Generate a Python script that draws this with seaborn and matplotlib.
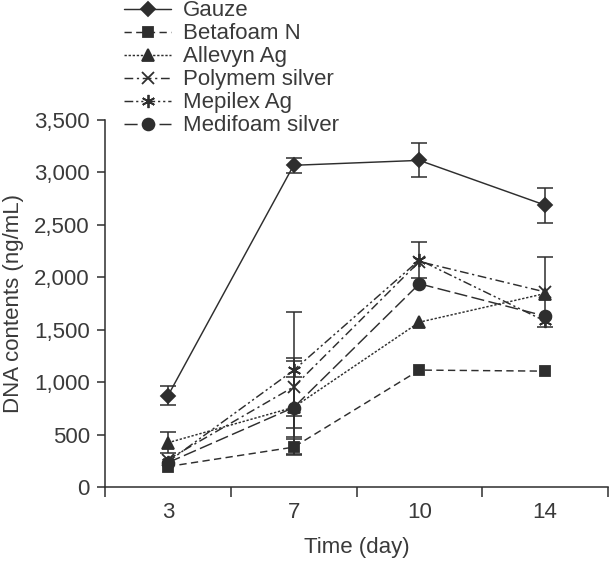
import matplotlib
matplotlib.use("Agg")
import matplotlib.pyplot as plt
import seaborn as sns
import pandas as pd
import numpy as np

# ---- data ----
days = ["3", "7", "10", "14"]
series_names = ["Gauze", "Betafoam N", "Allevyn Ag", "Polymem silver", "Mepilex Ag", "Medifoam silver"]
gauze = [869, 3068, 3115, 2688]
gauze_err = [90, 70, 162, 167]
betafoam = [195, 380, 1115, 1105]
betafoam_err = [0, 75, 0, 0]
allevyn = [422, 760, 1572, 1845]
allevyn_err = [98, 285, 0, 0]
polymem = [262, 955, 2150, 1860]
polymem_err = [0, 275, 0, 330]
mepilex = [240, 1113, 2165, 1582]
mepilex_err = [0, 555, 175, 0]
medifoam = [232, 758, 1938, 1630]
medifoam_err = [0, 440, 0, 0]
yticks = [0, 500, 1000, 1500, 2000, 2500, 3000, 3500]

values = [gauze, betafoam, allevyn, polymem, mepilex, medifoam]
errors = [gauze_err, betafoam_err, allevyn_err, polymem_err, mepilex_err, medifoam_err]

rows = []
for name, vals, errs in zip(series_names, values, errors):
    for i, (d, v, e) in enumerate(zip(days, vals, errs)):
        rows.append({"series": name, "day": d, "pos": i, "value": v, "err": e})
df = pd.DataFrame(rows)

# ---- styling ----
sns.set_theme(style="white")
plt.rcParams["font.family"] = ["Liberation Sans", "DejaVu Sans"]
ink = "#2e2e2e"
txt = "#3a3a3a"
fs = 16

dashes = {
    "Gauze": (None, None),
    "Betafoam N": (0, (5, 3)),
    "Allevyn Ag": (0, (1.6, 1.2)),
    "Polymem silver": (0, (6, 2.5, 1.5, 2.5)),
    "Mepilex Ag": (0, (6, 2, 1.5, 2, 1.5, 2)),
    "Medifoam silver": (0, (9, 3)),
}
markers = {
    "Gauze": "D",
    "Betafoam N": "s",
    "Allevyn Ag": "^",
    "Polymem silver": "x",
    "Mepilex Ag": (6, 2, 0),
    "Medifoam silver": "o",
}
msizes = {"Gauze": 7.5, "Betafoam N": 7.5, "Allevyn Ag": 8.5, "Polymem silver": 8,
          "Mepilex Ag": 9.5, "Medifoam silver": 8.5}

fig = plt.figure(figsize=(6.11, 5.61), dpi=100)
ax = fig.add_axes([105 / 611, 1 - 487 / 561, (608 - 105) / 611, (487 - 120) / 561])

for name in series_names:
    sub = df[df.series == name]
    ls = "-" if name == "Gauze" else dashes[name]
    sns.lineplot(data=sub, x="pos", y="value", color=ink, linestyle=ls,
                 marker=markers[name], markersize=msizes[name], markeredgecolor=ink,
                 markerfacecolor=ink, markeredgewidth=1.3, linewidth=1.05,
                 ax=ax, label=name, zorder=3)
    esub = sub[sub.err > 0]
    if len(esub):
        ax.errorbar(esub["pos"], esub["value"], yerr=esub["err"], fmt="none",
                    ecolor=ink, elinewidth=1.1, capsize=5.5, capthick=1.1, zorder=2)

ax.set_xlim(-0.5, 3.5)
ax.set_ylim(0, 3500)
ax.set_xticks(range(len(days)))
ax.set_xticklabels(days)
ax.set_xticks(np.arange(-0.5, 3.6, 1.0), minor=True)
ax.set_yticks(yticks)
ax.set_yticklabels([f"{v:,}" for v in yticks])

for s in ["top", "right"]:
    ax.spines[s].set_visible(False)
for s in ["left", "bottom"]:
    ax.spines[s].set_color(ink)
    ax.spines[s].set_linewidth(1.1)

ax.tick_params(axis="x", which="major", length=0, pad=11, labelsize=fs, labelcolor=txt)
ax.tick_params(axis="x", which="minor", length=7, width=1.1, color=ink, direction="out", bottom=True)
ax.tick_params(axis="y", which="major", length=6, width=1.1, color=ink, direction="out", left=True,
               pad=5, labelsize=fs, labelcolor=txt)

ax.set_xlabel("Time (day)", fontsize=fs, color=txt, labelpad=10)
ax.set_ylabel("DNA contents (ng/mL)", fontsize=fs, color=txt, labelpad=7)

handles, labels = ax.get_legend_handles_labels()
if ax.get_legend() is not None:
    ax.get_legend().remove()
leg = fig.legend(handles, labels, loc="upper left", bbox_to_anchor=(120 / 611, 1.0 + 4 / 561),
                 frameon=False, fontsize=fs, handlelength=2.1, handletextpad=0.55,
                 labelspacing=0.09, borderaxespad=0, borderpad=0.2)
for t in leg.get_texts():
    t.set_color(txt)

fig.savefig("out.png", dpi=100)
